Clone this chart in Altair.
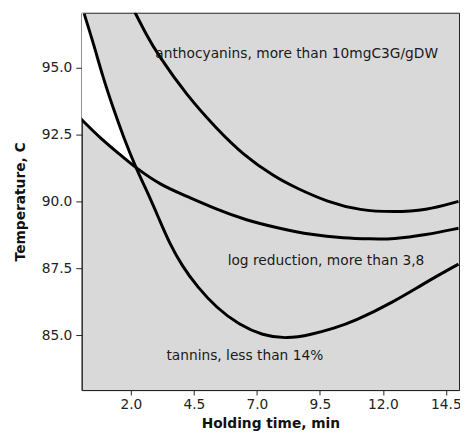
import altair as alt
import pandas as pd

# Curve readings (Holding time, min ; Temperature, C)
tannin_x = [0.15, 0.54, 0.87, 1.32, 1.71, 2.20, 2.74, 3.13, 3.52, 4.03, 4.65, 5.40, 6.30, 7.22, 8.19, 9.16, 10.07, 10.85, 12.41, 13.70, 15.0]
tannin_y = [97.0, 95.82, 94.70, 93.42, 92.40, 91.25, 90.18, 89.32, 88.47, 87.59, 86.80, 86.03, 85.39, 85.0, 84.87, 85.03, 85.27, 85.52, 86.24, 86.98, 87.66]

logred_x = [0.0, 0.80, 1.58, 2.20, 3.20, 4.15, 5.40, 6.57, 7.86, 9.16, 10.46, 11.50, 12.41, 13.70, 15.0]
logred_y = [93.10, 92.35, 91.74, 91.25, 90.60, 90.22, 89.70, 89.30, 89.00, 88.75, 88.63, 88.60, 88.59, 88.75, 89.0]

antho_x = [2.16, 2.62, 3.07, 4.23, 5.40, 6.44, 7.74, 8.52, 9.81, 11.11, 12.41, 13.70, 15.0]
antho_y = [97.06, 96.21, 95.48, 93.94, 92.72, 91.75, 90.89, 90.52, 89.97, 89.66, 89.60, 89.66, 90.0]

# White (feasible) region between log-reduction (lower) and tannin (upper) curves
white_x = [0.05, 0.15, 0.54, 0.87, 1.32, 1.71, 2.20]
white_lo = [93.06, 92.98, 92.60, 92.30, 91.94, 91.64, 91.25]
white_hi = [97.04, 97.0, 95.82, 94.70, 93.42, 92.40, 91.25]

# Annotations
label_text = ["anthocyanins, more than 10mgC3G/gDW", "log reduction, more than 3,8", "tannins, less than 14%"]
label_x = [2.97, 5.84, 3.41]
label_y = [95.35, 87.62, 84.07]

x_ticks = [2.0, 4.5, 7.0, 9.5, 12.0, 14.5]
y_ticks = [85.0, 87.5, 90.0, 92.5, 95.0]

FONT = "DejaVu Sans"
xs = alt.Scale(domain=[0.05, 15.02], nice=False, zero=False)
ys = alt.Scale(domain=[82.96, 97.04], nice=False, zero=False)

curves = pd.concat([
    pd.DataFrame({"x": tannin_x, "y": tannin_y, "c": "tannin"}),
    pd.DataFrame({"x": logred_x, "y": logred_y, "c": "logred"}),
    pd.DataFrame({"x": antho_x, "y": antho_y, "c": "antho"}),
])
white = pd.DataFrame({"x": white_x, "lo": white_lo, "hi": white_hi})
labels = pd.DataFrame({"t": label_text, "x": label_x, "y": label_y})

xaxis = alt.Axis(values=x_ticks, format=".1f", title="Holding time, min", grid=False,
                 tickSize=5, labelPadding=3, titlePadding=5, labelFontSize=14, titleFontSize=14,
                 labelFont=FONT, titleFont=FONT, titleFontWeight="bold", labelColor="#222",
                 titleColor="#111", domainColor="#222", tickColor="#222")
yaxis = alt.Axis(values=y_ticks, format=".1f", title="Temperature, C", grid=False,
                 tickSize=6, labelPadding=4, titlePadding=14, labelFontSize=14, titleFontSize=14,
                 labelFont=FONT, titleFont=FONT, titleFontWeight="bold", labelColor="#222",
                 titleColor="#111", domainColor="#222", tickColor="#222")

area = alt.Chart(white).mark_area(color="white", opacity=1, interpolate="basis", clip=True).encode(
    x=alt.X("x:Q", scale=xs, axis=xaxis),
    y=alt.Y("lo:Q", scale=ys, axis=yaxis),
    y2="hi:Q",
)

lines = alt.Chart(curves).mark_line(color="black", strokeWidth=3, interpolate="basis", clip=True).encode(
    x=alt.X("x:Q", scale=xs, axis=xaxis),
    y=alt.Y("y:Q", scale=ys, axis=yaxis),
    detail="c:N",
)

text = alt.Chart(labels).mark_text(align="left", baseline="alphabetic", font=FONT, fontSize=14, color="#1a1a1a").encode(
    x=alt.X("x:Q", scale=xs, axis=xaxis),
    y=alt.Y("y:Q", scale=ys, axis=yaxis),
    text="t:N",
)

chart = alt.layer(area, lines, text).properties(
    width=384, height=384,
    padding={"left": 75, "top": 1, "right": 1, "bottom": 48},
    autosize=alt.AutoSizeParams(type="none"),
).configure_view(fill="#d9d9d9", stroke="#222", strokeWidth=1)

chart.save("out.html", embed_options={"renderer": "svg", "actions": False})
